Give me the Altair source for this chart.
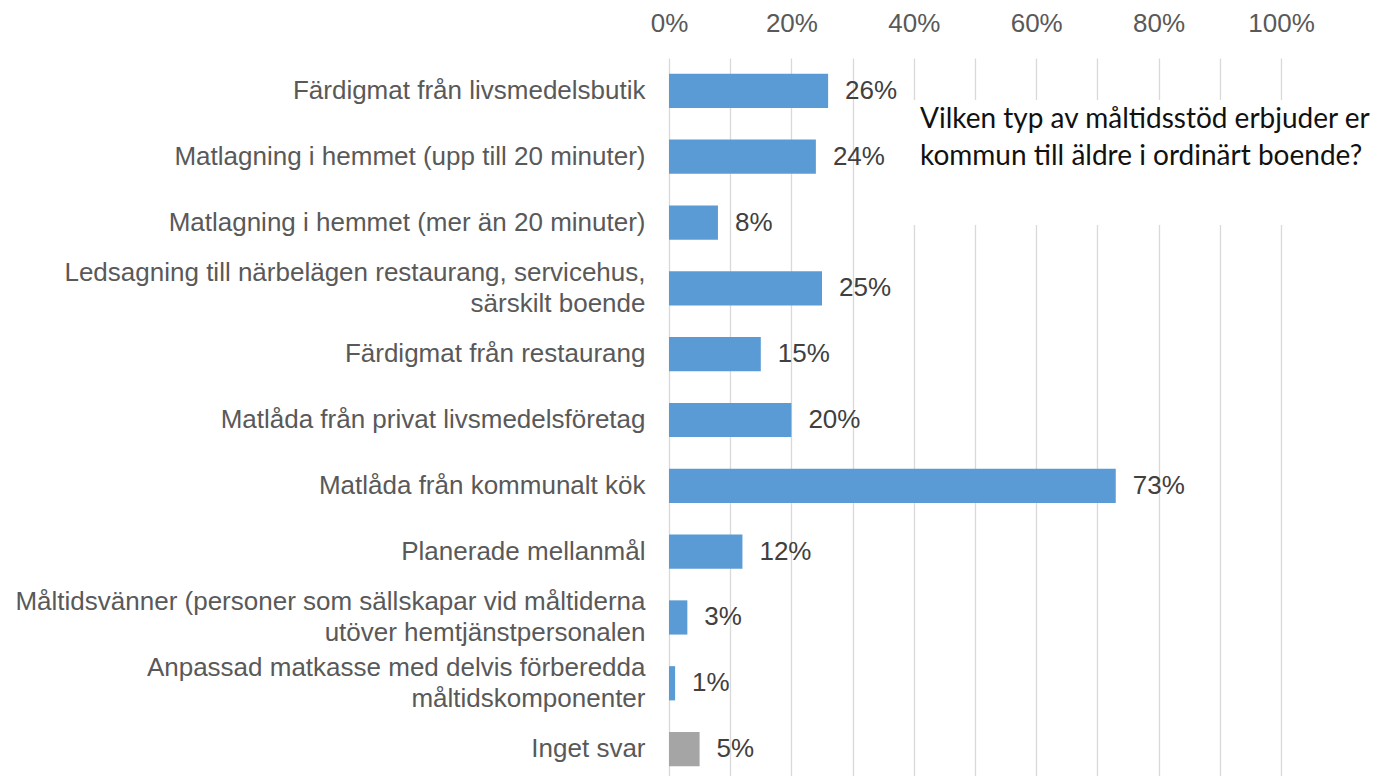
import altair as alt
import pandas as pd

categories = [
    "Färdigmat från livsmedelsbutik",
    "Matlagning i hemmet (upp till 20 minuter)",
    "Matlagning i hemmet (mer än 20 minuter)",
    "Ledsagning till närbelägen restaurang, servicehus,\nsärskilt boende",
    "Färdigmat från restaurang",
    "Matlåda från privat livsmedelsföretag",
    "Matlåda från kommunalt kök",
    "Planerade mellanmål",
    "Måltidsvänner (personer som sällskapar vid måltiderna\nutöver hemtjänstpersonalen",
    "Anpassad matkasse med delvis förberedda\nmåltidskomponenter",
    "Inget svar",
]
values = [26, 24, 8, 25, 15, 20, 73, 12, 3, 1, 5]
groups = ["svar"] * 10 + ["inget"]
tick_values = [0, 10, 20, 30, 40, 50, 60, 70, 80, 90, 100]
question = "Vilken typ av måltidsstöd erbjuder er\nkommun till äldre i ordinärt boende?"

df = pd.DataFrame({"cat": categories, "val": values, "grp": groups})
df["lab"] = df["val"].astype(str) + "%"

FONT = "Liberation Sans"
FS = 26

y_enc = alt.Y(
    "cat:N",
    sort=categories,
    scale=alt.Scale(range=[0, 724], paddingInner=0.48, paddingOuter=0.24),
    axis=alt.Axis(
        title=None,
        domain=False,
        ticks=False,
        labelPadding=24,
        labelFontSize=FS,
        labelFont=FONT,
        labelColor="#595959",
        labelLimit=800,
        labelLineHeight=31,
        labelOffset={"expr": "indexof(datum.value, '\\n') >= 0 ? -15.5 : 0"},
        labelExpr="split(datum.label, '\\n')",
    ),
)

x_enc = alt.X(
    "val:Q",
    scale=alt.Scale(domain=[0, 100], nice=False),
    axis=alt.Axis(
        orient="top",
        title=None,
        values=tick_values,
        labelExpr="datum.value % 20 == 0 ? datum.value + '%' : ''",
        labelFlush=False,
        labelOverlap=False,
        domain=False,
        ticks=False,
        grid=True,
        gridColor="#d9d9d9",
        gridWidth=1.3,
        labelPadding=22,
        labelFontSize=FS,
        labelFont=FONT,
        labelColor="#595959",
    ),
)

base = alt.Chart(df)

bars = base.mark_bar().encode(
    x=x_enc,
    y=y_enc,
    color=alt.Color(
        "grp:N",
        scale=alt.Scale(domain=["svar", "inget"], range=["#5b9bd5", "#a5a5a5"]),
        legend=None,
    ),
)

labels = base.mark_text(
    align="left", baseline="middle", dx=17, fontSize=FS, font=FONT, color="#404040"
).encode(x="val:Q", y=alt.Y("cat:N", sort=categories), text="lab:N")

qdf = pd.DataFrame({"q": [question]})
box = alt.Chart(qdf).mark_rect(color="white").encode(
    x=alt.value(236), x2=alt.value(712), y=alt.value(42), y2=alt.value(167)
)
qtext = alt.Chart(qdf).mark_text(
    align="left",
    baseline="middle",
    fontSize=28,
    font="Lato",
    color="#111111",
    lineBreak="\n",
    lineHeight=37,
).encode(x=alt.value(251), y=alt.value(62), text="q:N")

chart = (
    alt.layer(bars, labels, box, qtext)
    .properties(
        width=612,
        height=718,
        autosize=alt.AutoSizeParams(type="none"),
        padding={"left": 669, "top": 58, "right": 100, "bottom": 0},
    )
    .configure_view(strokeWidth=0)
)

chart.save("out.html", embed_options={"renderer": "svg", "actions": False})
